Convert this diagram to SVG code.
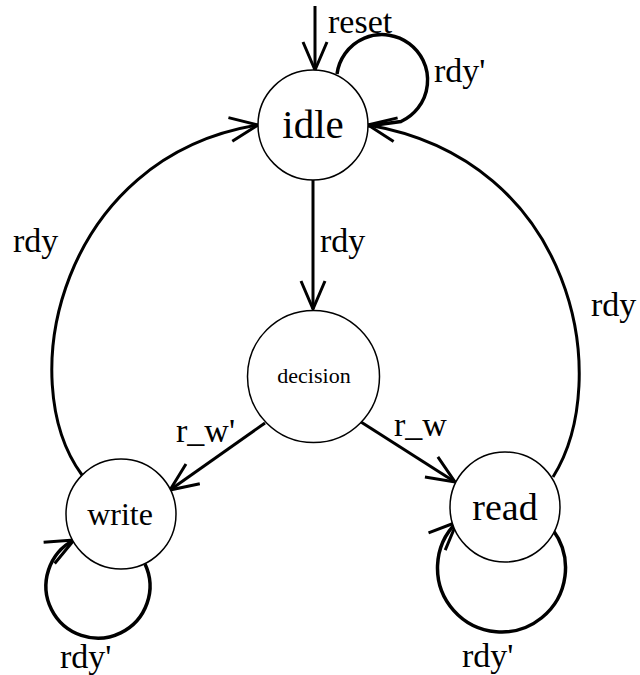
<svg xmlns="http://www.w3.org/2000/svg" width="640" height="675" viewBox="0 0 640 675">
  <style>
    .state { fill: #ffffff; stroke: #000000; stroke-width: 1.5; }
    .edge { fill: none; stroke: #000000; stroke-width: 3; }
    .loop { fill: none; stroke: #000000; stroke-width: 3.5; }
    text { font-family: "Liberation Serif", "Times New Roman", serif; fill: #000000; }
    .lbl { font-size: 34px; }
  </style>
  <defs>
    <marker id="arrow" markerUnits="userSpaceOnUse" markerWidth="40" markerHeight="40" refX="0" refY="0" orient="auto" overflow="visible">
      <path d="M-28,-12 L0,0 L-28,12" fill="none" stroke="#000000" stroke-width="3" stroke-linejoin="miter"/>
    </marker>
  </defs>
  <rect x="0" y="0" width="640" height="675" fill="#ffffff"/>

  <g id="connectors">
    <line class="edge" x1="315" y1="6" x2="315" y2="70" marker-end="url(#arrow)"/>
    <path class="loop" d="M337,74 A45.5,45.5 0 1,1 401,121.5 L368,126"/>
    <line class="edge" x1="313" y1="180" x2="313" y2="309" marker-end="url(#arrow)"/>
    <line class="edge" x1="265" y1="423" x2="170" y2="490" marker-end="url(#arrow)"/>
    <line class="edge" x1="361" y1="422" x2="455" y2="482" marker-end="url(#arrow)"/>
    <path class="edge" d="M82,475 C12,380 61,157 258,125" marker-end="url(#arrow)"/>
    <path class="edge" d="M553,477 C614,380 575,160 368,125" marker-end="url(#arrow)"/>
    <path class="loop" d="M145,564 A52,52 0 1,1 74,540" marker-end="url(#arrow)"/>
    <path class="loop" d="M553,530 A64,64 0 1,1 457,522" marker-end="url(#arrow)"/>

    <text class="lbl" x="328" y="33">reset</text>
    <text class="lbl" x="434" y="82">rdy'</text>
    <text class="lbl" x="320" y="252">rdy</text>
    <text class="lbl" x="13" y="252">rdy</text>
    <text class="lbl" x="591" y="316">rdy</text>
    <text class="lbl" x="176" y="442">r_w'</text>
    <text class="lbl" x="394" y="436">r_w</text>
    <text class="lbl" x="60" y="668">rdy'</text>
    <text class="lbl" x="462" y="667">rdy'</text>
  </g>

  <g id="idle">
    <circle class="state" cx="313" cy="125" r="55"/>
    <text x="313" y="138" font-size="41" text-anchor="middle">idle</text>
  </g>
  <g id="decision">
    <circle class="state" cx="313.5" cy="376.5" r="66"/>
    <text x="314" y="383" font-size="22" text-anchor="middle">decision</text>
  </g>
  <g id="write">
    <circle class="state" cx="121" cy="514" r="55"/>
    <text x="120" y="525" font-size="32" text-anchor="middle">write</text>
  </g>
  <g id="read">
    <circle class="state" cx="505" cy="507" r="55"/>
    <text x="505" y="520" font-size="38" text-anchor="middle">read</text>
  </g>
</svg>
